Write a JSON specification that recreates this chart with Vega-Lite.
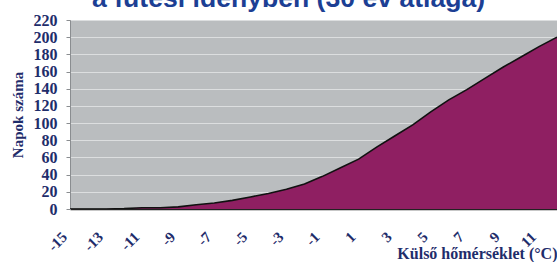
{
  "$schema": "https://vega.github.io/schema/vega-lite/v6.json",
  "autosize": {"type": "none"},
  "width": 487,
  "height": 189,
  "padding": {"left": 70, "top": 20, "right": 0, "bottom": 53},
  "background": "#ffffff",
  "title": {
    "text": "a fűtési idényben (30 év átlaga)",
    "font": "Liberation Sans",
    "fontSize": 26.6,
    "fontWeight": "bold",
    "color": "#1c3f94",
    "anchor": "start",
    "frame": "group",
    "dx": 22,
    "dy": 23,
    "baseline": "alphabetic",
    "offset": 1
  },
  "config": {
    "view": {"fill": "#babdbf", "stroke": "#d0d2d3", "strokeWidth": 1},
    "axis": {
      "labelFont": "Liberation Serif",
      "labelFontWeight": "bold",
      "labelColor": "#1f2d6b",
      "titleFont": "Liberation Serif",
      "titleFontWeight": "bold",
      "titleColor": "#1f2d6b"
    }
  },
  "data": {
    "values": [
      {"t": -15, "n": 0},
      {"t": -14, "n": 0},
      {"t": -13, "n": 0},
      {"t": -12, "n": 0.5},
      {"t": -11, "n": 1.5},
      {"t": -10, "n": 1.5},
      {"t": -9, "n": 2.5},
      {"t": -8, "n": 5},
      {"t": -7, "n": 7},
      {"t": -6, "n": 10},
      {"t": -5, "n": 14},
      {"t": -4, "n": 18},
      {"t": -3, "n": 23},
      {"t": -2, "n": 29},
      {"t": -1, "n": 38},
      {"t": 0, "n": 48},
      {"t": 1, "n": 58},
      {"t": 2, "n": 72},
      {"t": 3, "n": 85},
      {"t": 4, "n": 98},
      {"t": 5, "n": 113},
      {"t": 6, "n": 127},
      {"t": 7, "n": 139},
      {"t": 8, "n": 152},
      {"t": 9, "n": 165},
      {"t": 10, "n": 177},
      {"t": 11, "n": 189},
      {"t": 12, "n": 200}
    ]
  },
  "mark": {
    "type": "area",
    "color": "#8f1f62",
    "opacity": 1,
    "line": {"color": "#111111", "strokeWidth": 1.6},
    "clip": true
  },
  "encoding": {
    "x": {
      "field": "t",
      "type": "quantitative",
      "scale": {"domain": [-15, 12], "nice": false, "zero": false},
      "axis": {
        "values": [-15, -13, -11, -9, -7, -5, -3, -1, 1, 3, 5, 7, 9, 11],
        "labelExpr": "toString(datum.value)",
        "grid": false,
        "ticks": false,
        "domain": true,
        "domainColor": "#222222",
        "domainWidth": 1.5,
        "labelAngle": -45,
        "labelAlign": "right",
        "labelBaseline": "middle",
        "labelPadding": 25,
        "labelOffset": -6,
        "labelFontSize": 15,
        "labelFlush": false,
        "labelOverlap": false,
        "title": "Külső hőmérséklet (°C)",
        "titleFontSize": 16,
        "titleAnchor": "end",
        "titlePadding": -8
      }
    },
    "y": {
      "field": "n",
      "type": "quantitative",
      "scale": {"domain": [0, 220], "nice": false},
      "axis": {
        "values": [0, 20, 40, 60, 80, 100, 120, 140, 160, 180, 200, 220],
        "grid": true,
        "gridColor": "#dcdedf",
        "gridWidth": 1,
        "domain": true,
        "domainColor": "#8a8d90",
        "tickColor": "#8a8d90",
        "tickSize": 4,
        "labelPadding": 9,
        "labelFontSize": 16,
        "labelFlush": false,
        "labelOverlap": false,
        "title": "Napok száma",
        "titleFontSize": 15,
        "titlePadding": 8
      }
    }
  }
}
